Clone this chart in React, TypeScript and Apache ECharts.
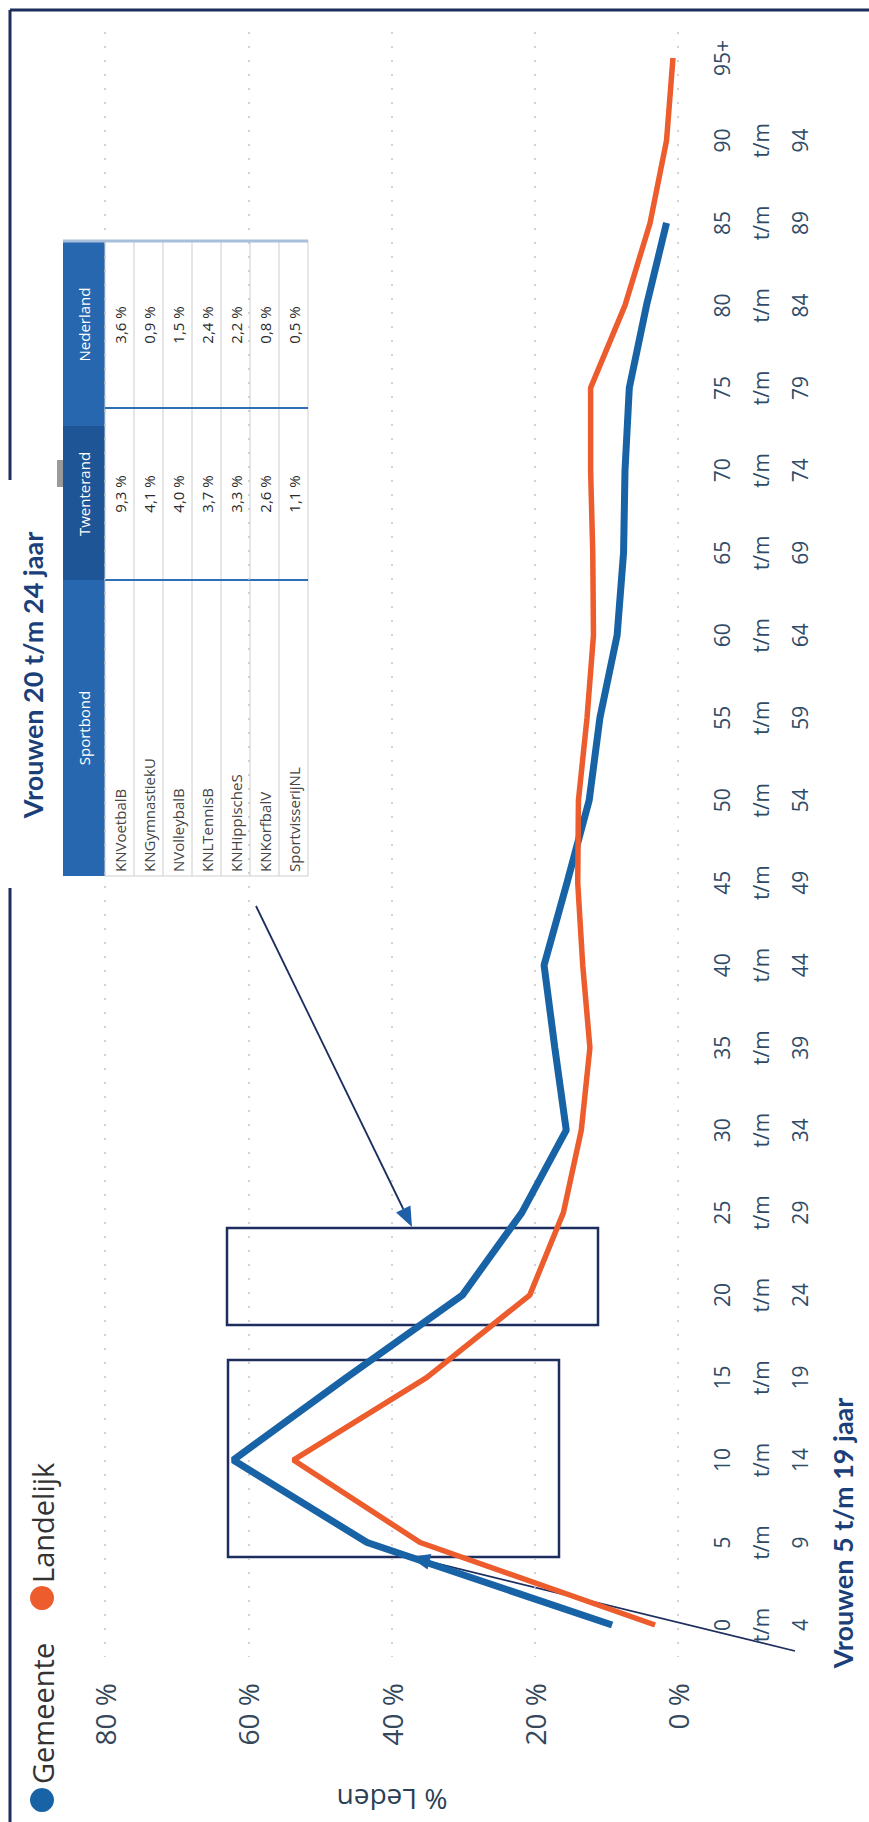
import React, { useEffect, useRef } from "react";
import * as echarts from "echarts";

// ---- data ----
const categories = [
  "0 t/m 4", "5 t/m 9", "10 t/m 14", "15 t/m 19", "20 t/m 24", "25 t/m 29",
  "30 t/m 34", "35 t/m 39", "40 t/m 44", "45 t/m 49", "50 t/m 54", "55 t/m 59",
  "60 t/m 64", "65 t/m 69", "70 t/m 74", "75 t/m 79", "80 t/m 84", "85 t/m 89",
  "90 t/m 94", "95+",
];
const gemeente = [9.2, 43.4, 62.1, 46.3, 30.1, 21.8, 15.6, 17.2, 18.7, 15.5, 12.4, 10.9, 8.5, 7.6, 7.4, 6.8, 4.4, 1.6, null, null];
const landelijk = [3.2, 36.0, 53.7, 35.1, 20.7, 16.0, 13.5, 12.3, 13.3, 14.0, 13.9, 12.7, 11.8, 11.9, 12.2, 12.2, 7.4, 3.9, 1.6, 0.7];
const valueMax = 80;
const valueStep = 20;
const seriesNames = ["Gemeente", "Landelijk"];

const tableTitle = "Vrouwen 20 t/m 24 jaar";
const secondTitle = "Vrouwen 5 t/m 19 jaar";
const tableHeaders = ["Sportbond", "Twenterand", "Nederland"];
const sportbonden = ["KNVoetbalB", "KNGymnastiekU", "NVolleybalB", "KNLTennisB", "KNHippischeS", "KNKorfbalV", "SportvisserijNL"];
const twenterand = ["9,3 %", "4,1 %", "4,0 %", "3,7 %", "3,3 %", "2,6 %", "1,1 %"];
const nederland = ["3,6 %", "0,9 %", "1,5 %", "2,4 %", "2,2 %", "0,8 %", "0,5 %"];

const BLUE = "#1862a6";
const ORANGE = "#ec5c2d";
const NAVY = "#1c2d5e";
const R = Math.PI / 2;

function arrow(x1: number, y1: number, x2: number, y2: number, head: string) {
  const dx = x2 - x1, dy = y2 - y1;
  const len = Math.sqrt(dx * dx + dy * dy);
  const ux = dx / len, uy = dy / len;
  const px = -uy, py = ux;
  const hl = 20, hw = 8;
  const bx = x2 - ux * hl, by = y2 - uy * hl;
  return [
    { type: "line", shape: { x1, y1, x2: bx, y2: by }, style: { stroke: NAVY, lineWidth: 1.8 } },
    {
      type: "polygon",
      shape: { points: [[x2, y2], [bx + px * hw, by + py * hw], [bx - px * hw, by - py * hw]] },
      style: { fill: head },
    },
  ];
}

function buildTable() {
  const els: any[] = [];
  const x0 = 63, hx = 105, x1 = 308, yTop = 241, yBot = 876;
  const rowW = (x1 - hx) / sportbonden.length;
  const colBounds = [yBot, 580, 408, yTop]; // Sportbond, Twenterand, Nederland (bottom -> top)
  els.push({ type: "rect", shape: { x: x0, y: yTop, width: hx - x0, height: yBot - yTop }, style: { fill: "#2767b0" } });
  els.push({ type: "rect", shape: { x: x0, y: 426, width: hx - x0, height: 580 - 426 }, style: { fill: "#1d5596" } });
  els.push({ type: "rect", shape: { x: 57, y: 460, width: 6, height: 27 }, style: { fill: "#9a9a9a" } });
  els.push({ type: "rect", shape: { x: hx, y: yTop, width: x1 - hx, height: yBot - yTop }, style: { fill: "#fff", stroke: "#cfcfcf", lineWidth: 1 } });
  for (let i = 1; i < sportbonden.length; i++) {
    const x = hx + rowW * i;
    els.push({ type: "line", shape: { x1: x, y1: yTop, x2: x, y2: yBot }, style: { stroke: "#d6d6d6", lineWidth: 1.2 } });
  }
  els.push({ type: "line", shape: { x1: hx, y1: 408, x2: x1, y2: 408 }, style: { stroke: "#2f6fb5", lineWidth: 2 } });
  els.push({ type: "line", shape: { x1: hx, y1: 580, x2: x1, y2: 580 }, style: { stroke: "#2f6fb5", lineWidth: 2 } });
  els.push({ type: "line", shape: { x1: x0, y1: yTop, x2: x1, y2: yTop }, style: { stroke: "#a8bfdc", lineWidth: 3 } });
  tableHeaders.forEach((h, j) => {
    const cy = (colBounds[j] + colBounds[j + 1]) / 2;
    els.push({
      type: "text", x: (x0 + hx) / 2, y: cy, rotation: R,
      style: { text: h, fill: "#ffffff", fontSize: 15, fontFamily: "Open Sans", align: "center", verticalAlign: "middle" },
    });
  });
  sportbonden.forEach((name, i) => {
    const cx = hx + rowW * i + rowW / 2;
    els.push({
      type: "text", x: cx, y: yBot - 4, rotation: R,
      style: { text: name, fill: "#454545", fontSize: 15, fontFamily: "Open Sans", align: "left", verticalAlign: "middle" },
    });
    els.push({
      type: "text", x: cx, y: 494, rotation: R,
      style: { text: twenterand[i], fill: "#2a2a2a", fontSize: 15, fontFamily: "Open Sans", align: "center", verticalAlign: "middle" },
    });
    els.push({
      type: "text", x: cx, y: 325, rotation: R,
      style: { text: nederland[i], fill: "#2a2a2a", fontSize: 15, fontFamily: "Open Sans", align: "center", verticalAlign: "middle" },
    });
  });
  return els;
}

function buildGraphic() {
  const els: any[] = [];
  // frame
  els.push({ type: "line", shape: { x1: 10, y1: 10, x2: 869, y2: 10 }, style: { stroke: NAVY, lineWidth: 3 } });
  els.push({ type: "line", shape: { x1: 10, y1: 10, x2: 10, y2: 480 }, style: { stroke: NAVY, lineWidth: 3 } });
  els.push({ type: "line", shape: { x1: 10, y1: 888, x2: 10, y2: 1822 }, style: { stroke: NAVY, lineWidth: 3 } });
  // legend
  els.push({ type: "circle", shape: { cx: 42, cy: 1800, r: 12 }, style: { fill: BLUE } });
  els.push({
    type: "text", x: 42, y: 1784, rotation: R,
    style: { text: seriesNames[0], fill: "#333", fontSize: 29, fontFamily: "Open Sans", align: "left", verticalAlign: "middle" },
  });
  els.push({ type: "circle", shape: { cx: 42, cy: 1598, r: 12 }, style: { fill: ORANGE } });
  els.push({
    type: "text", x: 42, y: 1583, rotation: R,
    style: { text: seriesNames[1], fill: "#333", fontSize: 29, fontFamily: "Open Sans", align: "left", verticalAlign: "middle" },
  });
  // axis title
  els.push({
    type: "text", x: 392, y: 1800, rotation: Math.PI,
    style: { text: "% Leden", fill: "#2b3f55", fontSize: 28, fontFamily: "Open Sans", align: "center", verticalAlign: "middle" },
  });
  // titles
  els.push({
    type: "text", x: 32, y: 675, rotation: R,
    style: { text: tableTitle, fill: "#1b3f78", fontSize: 27, fontWeight: "bold", fontFamily: "Lato", align: "center", verticalAlign: "middle" },
  });
  els.push({
    type: "text", x: 842, y: 1533, rotation: R,
    style: { text: secondTitle, fill: "#1b3f78", fontSize: 27, fontWeight: "bold", fontFamily: "Lato", align: "center", verticalAlign: "middle" },
  });
  // table
  els.push(...buildTable());
  // annotation boxes
  els.push({ type: "rect", shape: { x: 227, y: 1228, width: 371, height: 97 }, style: { fill: "none", stroke: NAVY, lineWidth: 2.5 } });
  els.push({ type: "rect", shape: { x: 228, y: 1360, width: 331, height: 197 }, style: { fill: "none", stroke: NAVY, lineWidth: 2.5 } });
  // arrows
  els.push(...arrow(256, 906, 412, 1227, "#1f5fa8"));
  els.push(...arrow(795, 1651, 410, 1557, "#1f5fa8"));
  return els;
}

const option: any = {
  animation: false,
  backgroundColor: "#ffffff",
  grid: [
    { left: 105, right: 191, top: 58, bottom: 197 },
    { left: 105, right: 191, top: 32, bottom: 165 },
  ],
  xAxis: [
    { type: "value", gridIndex: 0, min: 0, max: valueMax, inverse: true, show: false },
    {
      type: "value", gridIndex: 1, min: 0, max: valueMax, interval: valueStep, inverse: true, position: "bottom",
      axisLine: { show: false }, axisTick: { show: false },
      splitLine: { show: true, lineStyle: { color: "#c4c4c4", width: 1.5, type: [2, 12] } },
      axisLabel: { rotate: 90, margin: 26, fontSize: 28, fontFamily: "Open Sans", color: "#35475a", formatter: "{value} %" },
    },
  ],
  yAxis: [
    {
      type: "category", gridIndex: 0, data: categories, boundaryGap: false, position: "right",
      axisLine: { show: false }, axisTick: { show: false }, splitLine: { show: false },
      axisLabel: {
        rotate: 90, margin: 24, fontSize: 21, lineHeight: 39, fontFamily: "Open Sans", color: "#2f4b68",
        align: "center", verticalAlign: "top", interval: 0,
        formatter: (v: string) => v.split(" ").join("\n"),
      },
    },
    { type: "value", gridIndex: 1, show: false, min: 0, max: 1 },
  ],
  graphic: { elements: buildGraphic() },
  series: [
    {
      name: seriesNames[0], type: "line", xAxisIndex: 0, yAxisIndex: 0, data: gemeente,
      symbol: "none", lineStyle: { color: BLUE, width: 7 }, z: 3,
    },
    {
      name: seriesNames[1], type: "line", xAxisIndex: 0, yAxisIndex: 0, data: landelijk,
      symbol: "none", lineStyle: { color: ORANGE, width: 5.5 }, z: 4,
    },
  ],
};

export default function App() {
  const ref = useRef<HTMLDivElement>(null);
  useEffect(() => {
    const chart = echarts.init(ref.current!, null, { renderer: "svg" });
    chart.setOption(option);
    return () => chart.dispose();
  }, []);
  return (
    <div
      ref={ref}
      style={{ position: "fixed", left: 0, top: 0, width: 869, height: 1822, background: "#fff" }}
    />
  );
}
